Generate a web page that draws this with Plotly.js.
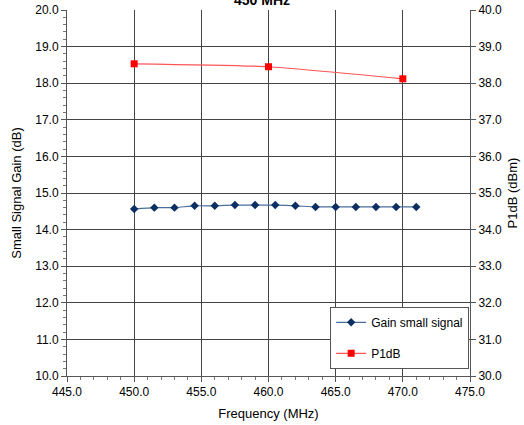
<!DOCTYPE html>
<html>
<head>
<meta charset="utf-8">
<script src="https://cdn.plot.ly/plotly-3.0.1.min.js"></script>
<style>html,body{margin:0;padding:0;background:#fff;}#chart{width:524px;height:425px;}</style>
</head>
<body>
<div id="chart"></div>
<script>
const gainFreq = [450, 451.5, 453, 454.5, 456, 457.5, 459, 460.5, 462, 463.5, 465, 466.5, 468, 469.5, 471];
const gainValues = [14.56, 14.60, 14.60, 14.65, 14.65, 14.67, 14.67, 14.67, 14.65, 14.62, 14.62, 14.62, 14.62, 14.62, 14.62];
const p1dbFreq = [450, 460, 470];
const p1dbValues = [38.53, 38.45, 38.12];

const traces = [
  {
    x: gainFreq, y: gainValues, name: 'Gain small signal', type: 'scatter', mode: 'lines+markers',
    line: {color: '#4a6f9a', width: 1.2, shape: 'spline', smoothing: 0.5},
    marker: {symbol: 'diamond', size: 6.5, color: '#0b2f63'},
    legendgroup: 'a'
  },
  {
    x: p1dbFreq, y: p1dbValues, name: 'P1dB', type: 'scatter', mode: 'lines+markers', yaxis: 'y2',
    line: {color: '#ff5555', width: 1.2, shape: 'spline', smoothing: 0.5},
    marker: {symbol: 'square', size: 7, color: '#ff0000'},
    legendgroup: 'b'
  }
];

const fontFam = '"Liberation Sans", Arial, sans-serif';
const layout = {
  width: 524, height: 425,
  margin: {l: 67, r: 54, t: 10, b: 49},
  paper_bgcolor: '#fff', plot_bgcolor: '#fff',
  font: {family: fontFam, size: 12, color: '#000'},
  title: {text: '<b>450 MHz</b>', font: {size: 14, family: fontFam}, y: 1.0, yref: 'container', yanchor: 'middle', x: 0.5},
  showlegend: true,
  legend: {
    x: 0.653, y: 0.189, xanchor: 'left', yanchor: 'top',
    bgcolor: '#fff', bordercolor: '#555', borderwidth: 1,
    font: {size: 12, family: fontFam}, tracegroupgap: 12
  },
  xaxis: {
    range: [445, 475], dtick: 5, tickformat: '.1f',
    showgrid: true, gridcolor: '#444', gridwidth: 1,
    showline: true, linecolor: '#555', linewidth: 1, mirror: false,
    ticks: 'outside', ticklen: 5, tickcolor: '#555',
    minor: {dtick: 1, ticks: 'outside', ticklen: 3, tickcolor: '#777', showgrid: false},
    zeroline: false,
    title: {text: 'Frequency (MHz)', font: {size: 13, family: fontFam}, standoff: 10},
    tickfont: {size: 12, family: fontFam}
  },
  yaxis: {
    range: [10, 20], dtick: 1, tickformat: '.1f',
    showgrid: true, gridcolor: '#444', gridwidth: 1,
    showline: true, linecolor: '#555', linewidth: 1,
    ticks: 'outside', ticklen: 5, tickcolor: '#555',
    minor: {dtick: 0.2, ticks: 'outside', ticklen: 3, tickcolor: '#777', showgrid: false},
    zeroline: false,
    title: {text: 'Small Signal Gain (dB)', font: {size: 13, family: fontFam}, standoff: 10},
    tickfont: {size: 12, family: fontFam}
  },
  yaxis2: {
    range: [30, 40], dtick: 1, tickformat: '.1f', overlaying: 'y', side: 'right',
    showgrid: false, showline: true, linecolor: '#555', linewidth: 1,
    ticks: 'outside', ticklen: 5, tickcolor: '#555',
    zeroline: false,
    title: {text: 'P1dB (dBm)', font: {size: 13, family: fontFam}, standoff: 6},
    tickfont: {size: 12, family: fontFam}
  }
};

Plotly.newPlot('chart', traces, layout, {displayModeBar: false, staticPlot: true});
</script>
</body>
</html>
